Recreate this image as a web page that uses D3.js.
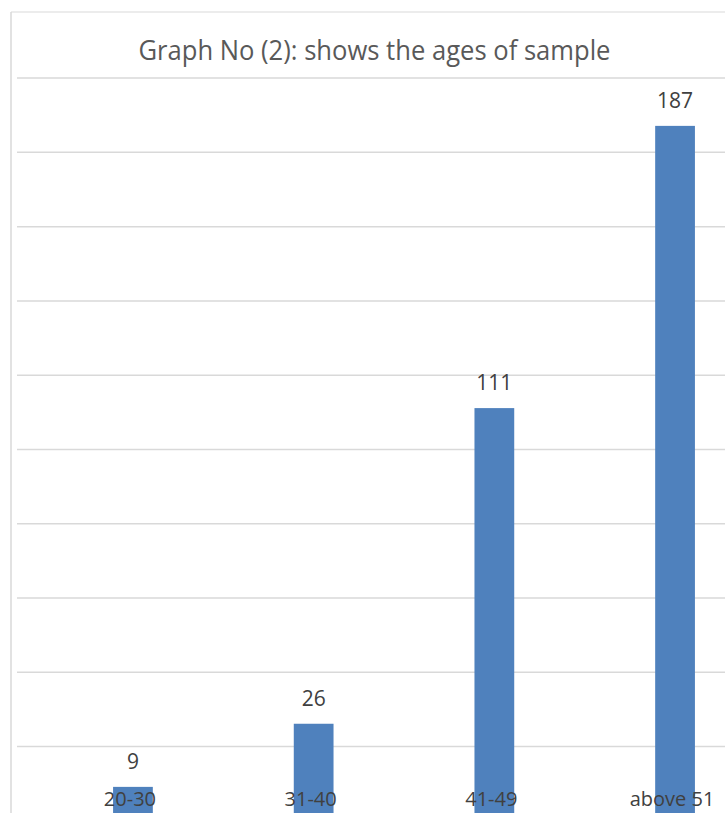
<!DOCTYPE html>
<html>
<head>
<meta charset="utf-8">
<script src="https://cdn.jsdelivr.net/npm/d3@7/dist/d3.min.js"></script>
<style>
  html, body { margin: 0; padding: 0; background: #fff; }
  svg { display: block; }
</style>
</head>
<body>
<svg id="chart" width="725" height="813"></svg>
<script>
// Age groups of the sample and their counts
const categories = ["20-30", "31-40", "41-49", "above 51"];
const counts = [9, 26, 111, 187];
const gridTicks = [0, 20, 40, 60, 80, 100, 120, 140, 160, 180, 200];
const titleText = "Graph No (2): shows the ages of sample";

const W = 725, H = 813;
const svg = d3.select("#chart");
const FONT = "'Open Sans', 'Noto Sans', sans-serif";

// Plot geometry (the frame continues past the bottom/right edge of the page)
const plotLeft = 17, plotRight = 725;
const baseY = 820.3, topY = 77.6;

const x = d3.scaleBand()
  .domain(categories)
  .range([42.6, 765.4])
  .paddingInner(0.78)
  .paddingOuter(0.39);

const y = d3.scaleLinear()
  .domain([0, 200])
  .range([baseY, topY]);

// Chart frame
svg.append("line")
  .attr("x1", 11).attr("x2", W).attr("y1", 12).attr("y2", 12)
  .attr("stroke", "#d9d9d9").attr("stroke-width", 1.2);
svg.append("line")
  .attr("x1", 11).attr("x2", 11).attr("y1", 12).attr("y2", H)
  .attr("stroke", "#d9d9d9").attr("stroke-width", 1.5);

// Horizontal gridlines
const grid = svg.append("g")
  .attr("transform", `translate(${plotLeft},0)`)
  .call(d3.axisLeft(y).tickValues(gridTicks).tickSize(-(plotRight - plotLeft)).tickFormat(""));
grid.select(".domain").remove();
grid.selectAll(".tick line").attr("stroke", "#d9d9d9").attr("stroke-width", 1.5);

// Title
svg.append("text")
  .attr("x", 374.5).attr("y", 60)
  .attr("text-anchor", "middle")
  .attr("font-family", FONT)
  .attr("font-size", 27)
  .attr("fill", "#595959")
  .attr("textLength", 472)
  .attr("lengthAdjust", "spacingAndGlyphs")
  .text(titleText);

// Bars
svg.append("g").selectAll("rect")
  .data(categories)
  .join("rect")
  .attr("x", d => x(d))
  .attr("y", (d, i) => y(counts[i]))
  .attr("width", x.bandwidth())
  .attr("height", (d, i) => y(0) - y(counts[i]))
  .attr("fill", "#4f81bd");

// Value labels above bars
svg.append("g").selectAll("text")
  .data(categories)
  .join("text")
  .attr("x", d => x(d) + x.bandwidth() / 2)
  .attr("y", (d, i) => y(counts[i]) - 18)
  .attr("text-anchor", "middle")
  .attr("font-family", FONT)
  .attr("font-size", 21)
  .attr("fill", "#404040")
  .text((d, i) => counts[i]);

// Category labels
svg.append("g").selectAll("text")
  .data(categories)
  .join("text")
  .attr("x", d => x(d) + x.bandwidth() / 2 - 3)
  .attr("y", 806)
  .attr("text-anchor", "middle")
  .attr("font-family", FONT)
  .attr("font-size", 20)
  .attr("fill", "#404040")
  .text(d => d);
</script>
</body>
</html>
